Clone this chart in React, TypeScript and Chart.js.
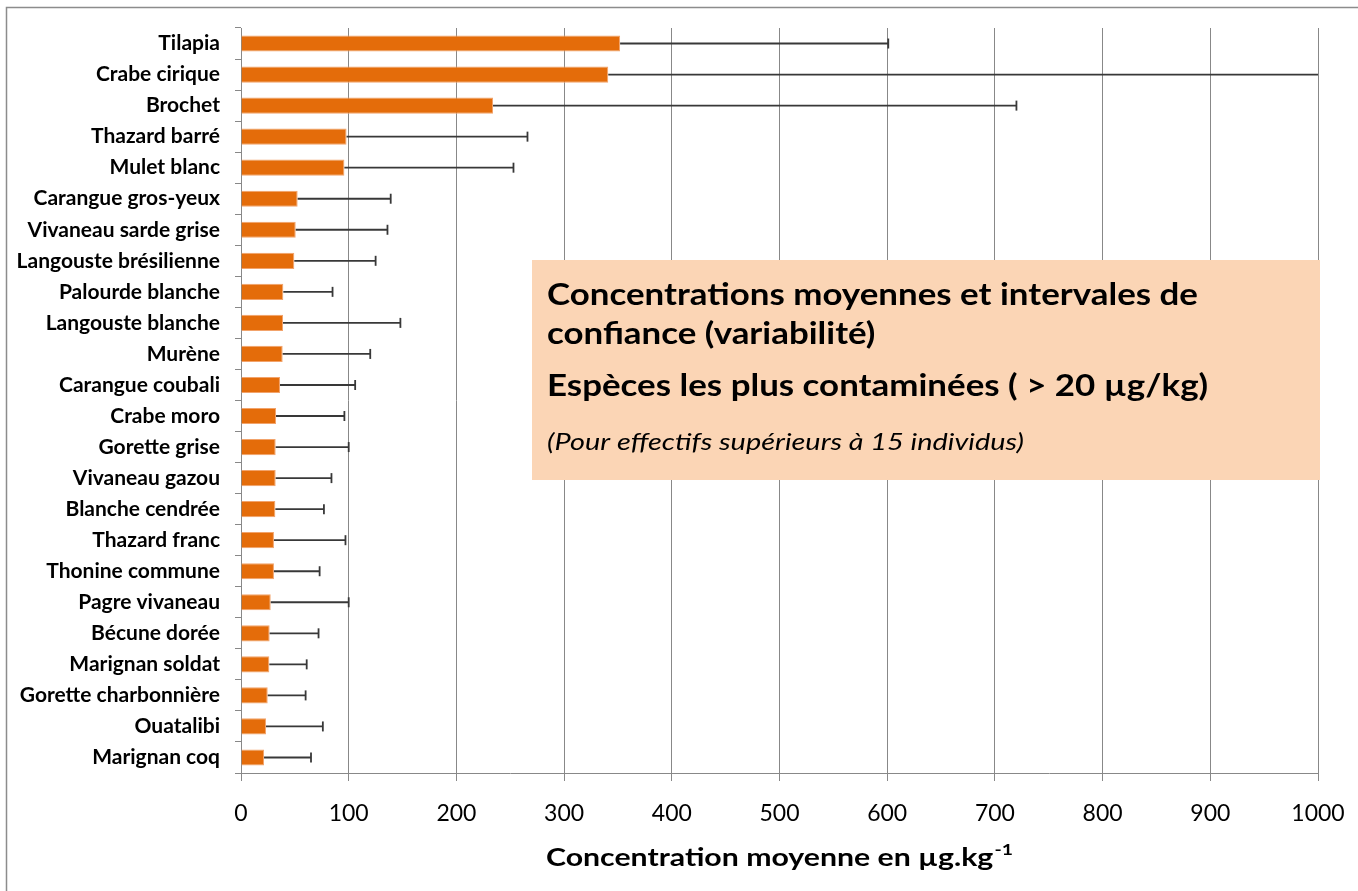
import React, { useEffect, useRef } from 'react';
import { Chart, registerables } from 'chart.js';

Chart.register(...registerables);

const categories = [
  'Tilapia', 'Crabe cirique', 'Brochet', 'Thazard barré', 'Mulet blanc',
  'Carangue gros-yeux', 'Vivaneau sarde grise', 'Langouste brésilienne',
  'Palourde blanche', 'Langouste blanche', 'Murène', 'Carangue coubali',
  'Crabe moro', 'Gorette grise', 'Vivaneau gazou', 'Blanche cendrée',
  'Thazard franc', 'Thonine commune', 'Pagre vivaneau', 'Bécune dorée',
  'Marignan soldat', 'Gorette charbonnière', 'Ouatalibi', 'Marignan coq',
];
const meanValues = [
  352, 341, 234, 98, 96, 52.6, 50.8, 49.5, 39.3, 39, 38.7, 36.2,
  32.5, 32.2, 32.2, 31.9, 30.6, 30.6, 27.6, 26.6, 26.3, 24.8, 23.2, 21.4,
];
const upperValues = [
  601, 1150, 720, 266, 253, 139, 136, 125, 85, 148, 120, 106,
  96, 100, 84, 77, 97, 73, 100, 72, 61, 60, 76, 65,
];
const xTickValues = [0, 100, 200, 300, 400, 500, 600, 700, 800, 900, 1000];
const axisTitle = 'Concentration moyenne en µg.kg';
const axisTitleSup = '-1';
const boxLines = [
  'Concentrations moyennes et intervales de',
  'confiance (variabilité)',
  'Espèces les plus contaminées ( > 20 µg/kg)',
];
const boxNote = '(Pour effectifs supérieurs à 15 individus)';

const FONT = 'Lato, "Open Sans", "DejaVu Sans", sans-serif';

const errorBarPlugin = {
  id: 'errorBars',
  afterDatasetsDraw(chart: any) {
    const ctx = chart.ctx;
    const meta = chart.getDatasetMeta(0);
    const xs = chart.scales.x;
    const ca = chart.chartArea;
    ctx.save();
    ctx.strokeStyle = '#383838';
    ctx.lineWidth = 1.8;
    meta.data.forEach((bar: any, i: number) => {
      const xe = xs.getPixelForValue(upperValues[i]);
      const clipped = xe > ca.right;
      const x1 = Math.min(xe, ca.right);
      ctx.beginPath();
      ctx.moveTo(bar.x, bar.y);
      ctx.lineTo(x1, bar.y);
      ctx.stroke();
      if (!clipped) {
        ctx.beginPath();
        ctx.moveTo(x1, bar.y - 5);
        ctx.lineTo(x1, bar.y + 5);
        ctx.stroke();
      }
    });
    ctx.restore();
  },
};

function fitText(ctx: any, text: string, x: number, y: number, width: number | null, sx?: number) {
  const w = ctx.measureText(text).width;
  const s = sx !== undefined ? sx : width ? width / w : 1;
  ctx.save();
  ctx.translate(x, y);
  ctx.scale(s, 1);
  ctx.fillText(text, 0, 0);
  ctx.restore();
  return s;
}

const decorPlugin = {
  id: 'decor',
  afterDraw(chart: any) {
    const ctx = chart.ctx;
    const ca = chart.chartArea;
    ctx.save();
    // outer frame
    ctx.strokeStyle = '#8c8c8c';
    ctx.lineWidth = 1.5;
    ctx.beginPath();
    ctx.moveTo(6.5, 891);
    ctx.lineTo(6.5, 7.5);
    ctx.lineTo(1358, 7.5);
    ctx.stroke();

    // annotation box
    const bx = 532, by = 260, bw = 788, bh = 220;
    ctx.fillStyle = '#FBD5B5';
    ctx.fillRect(bx, by, bw, bh);
    ctx.fillStyle = '#000';
    ctx.textAlign = 'left';
    ctx.textBaseline = 'alphabetic';
    ctx.font = `bold 31px ${FONT}`;
    const sx = ctx.measureText(boxLines[0]).width;
    const scaleX = 651 / sx;
    const ys = [305, 344, 396];
    boxLines.forEach((t, i) => fitText(ctx, t, 547, ys[i], null, scaleX));
    ctx.font = `italic 23px ${FONT}`;
    fitText(ctx, boxNote, 547, 450, 477);

    // axis title with superscript
    ctx.font = `bold 25px ${FONT}`;
    const wt = ctx.measureText(axisTitle).width;
    ctx.font = `bold 16px ${FONT}`;
    const ws = ctx.measureText(axisTitleSup).width;
    const targetTotal = 467;
    const s = targetTotal / (wt + ws + 1);
    const cx = (ca.left + ca.right) / 2;
    const x0 = cx - targetTotal / 2;
    ctx.font = `bold 25px ${FONT}`;
    fitText(ctx, axisTitle, x0, 866, null, s);
    ctx.font = `bold 16px ${FONT}`;
    fitText(ctx, axisTitleSup, x0 + (wt + 1) * s, 855, null, s);
    ctx.restore();
  },
};

export default function App() {
  const ref = useRef<HTMLCanvasElement | null>(null);
  useEffect(() => {
    if (!ref.current) return;
    const chart = new Chart(ref.current, {
      type: 'bar',
      data: {
        labels: categories,
        datasets: [
          {
            data: meanValues,
            backgroundColor: '#E46C0A',
            borderColor: '#F2A36B',
            borderWidth: 1,
            barPercentage: 0.52,
            categoryPercentage: 1,
          },
        ],
      },
      options: {
        indexAxis: 'y',
        animation: false,
        responsive: false,
        maintainAspectRatio: false,
        layout: { padding: { top: 28, right: 40, left: 0, bottom: 0 } },
        plugins: {
          legend: { display: false },
          tooltip: { enabled: false },
          title: { display: false },
        },
        scales: {
          x: {
            type: 'linear',
            min: 0,
            max: 1000,
            afterBuildTicks: (scale: any) => {
              scale.ticks = xTickValues.map((v) => ({ value: v }));
            },
            ticks: {
              color: '#000',
              padding: 19,
              font: { family: FONT, size: 23 },
              maxRotation: 0,
              callback: (v: any) => String(v),
            },
            grid: { color: '#888888', lineWidth: 1, tickLength: 8, drawTicks: true },
            border: { color: '#888888', width: 1 },
            afterFit: (scale: any) => {
              scale.height = 118;
              scale.paddingLeft = 0;
              scale.paddingRight = 0;
            },
          },
          y: {
            ticks: {
              color: '#000',
              padding: 15,
              autoSkip: false,
              font: { family: FONT, size: 21, weight: 'bold' },
            },
            grid: { offset: true, drawOnChartArea: false, tickLength: 6, color: '#888888' },
            border: { color: '#888888', width: 1 },
            afterFit: (scale: any) => {
              scale.width = 241;
              scale.paddingTop = 0;
              scale.paddingBottom = 0;
            },
          },
        },
      },
      plugins: [errorBarPlugin, decorPlugin],
    } as any);
    return () => chart.destroy();
  }, []);
  return (
    <div style={{ position: 'absolute', left: 0, top: 0, width: 1358, height: 891, background: '#fff' }}>
      <canvas ref={ref} width={1358} height={891} style={{ display: 'block' }} />
    </div>
  );
}
